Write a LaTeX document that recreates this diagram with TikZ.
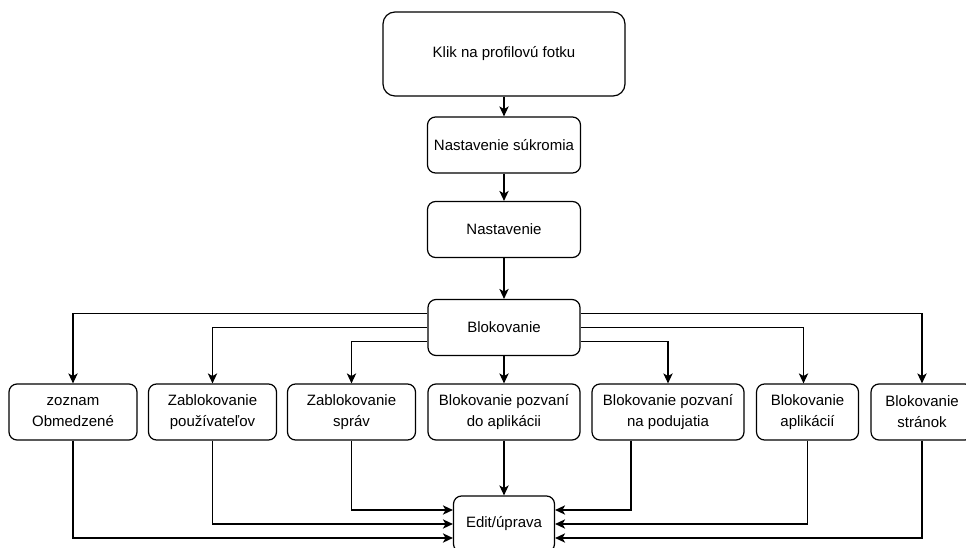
\documentclass[tikz,border=0pt]{standalone}
\usepackage{fontspec}
\setmainfont{Liberation Sans}
\usepackage{tikz}
\usetikzlibrary{arrows.meta, calc}

\begin{document}
\begin{tikzpicture}[x=0.75pt,y=0.75pt,yscale=-1,xscale=1,
  box/.style={draw, line width=0.9pt, rounded corners=6pt, align=center, inner sep=0.75pt, minimum height=42pt, font=\fontsize{11.25}{15.75}\selectfont},
  arr/.style={draw, line width=0.9pt, -{Stealth[length=7.5pt,width=7pt,inset=2pt]}}]
\useasboundingbox (0,0) rectangle (966,548);

%Shape: Rounded Rect [id:klik]
\node[box, rounded corners=9pt, minimum width=181.5pt, minimum height=63pt] (klik) at (504,54) {Klik na profilovú fotku};
%Shape: Rounded Rect [id:sukr]
\node[box, minimum width=114.75pt] (sukr) at (504,145) {Nastavenie súkromia};
%Shape: Rounded Rect [id:nast]
\node[box, minimum width=114.75pt] (nast) at (504,229.5) {Nastavenie};
%Shape: Rounded Rect [id:blk]
\node[box, minimum width=114pt] (blk) at (504,327.5) {Blokovanie};

%Shape: Rounded Rect [id:zoz]
\node[box, minimum width=96pt] (zoz) at (73,412) {zoznam\\Obmedzené};
%Shape: Rounded Rect [id:pouz]
\node[box, minimum width=96pt] (pouz) at (212.5,412) {Zablokovanie\\používateľov};
%Shape: Rounded Rect [id:sprav]
\node[box, minimum width=96pt] (sprav) at (351.5,412) {Zablokovanie\\správ};
%Shape: Rounded Rect [id:pozapl]
\node[box, minimum width=114pt] (pozapl) at (504,412) {Blokovanie pozvaní\\do aplikácii};
%Shape: Rounded Rect [id:pozpod]
\node[box, minimum width=114pt] (pozpod) at (668,412) {Blokovanie pozvaní\\na podujatia};
%Shape: Rounded Rect [id:apl]
\node[box, minimum width=76.5pt] (apl) at (807.5,412) {Blokovanie\\aplikácií};
%Shape: Rounded Rect [id:str]
\node[box, minimum width=76.5pt] (str) at (922,412) {Blokovanie\\stránok};

%Shape: Rounded Rect [id:edit]
\node[box, minimum width=75.75pt] (edit) at (504,524) {Edit/úprava};

%Straight Lines
\draw[arr] (klik) -- (sukr);
\draw[arr] (sukr) -- (nast);
\draw[arr] (nast) -- (blk);
\draw[arr] (blk) -- (pozapl);
\draw[arr] (pozapl) -- (edit);

%Connector: Blokovanie to the left
\draw[arr] ($(blk.west)+(0,-14)$) -| (zoz);
\draw[arr] (blk.west) -| (pouz);
\draw[arr] ($(blk.west)+(0,14)$) -| (sprav);
%Connector: Blokovanie to the right
\draw[arr] ($(blk.east)+(0,-14)$) -| (str);
\draw[arr] (blk.east) -| ($(apl.north)+(-4,0)$);
\draw[arr] ($(blk.east)+(0,14)$) -| (pozpod);

%Connector: into Edit from the left
\draw[arr] (sprav.south) |- ($(edit.west)+(0,-14)$);
\draw[arr] (pouz.south) |- (edit.west);
\draw[arr] (zoz.south) |- ($(edit.west)+(0,14)$);
%Connector: into Edit from the right
\draw[arr] ($(pozpod.south)+(-37,0)$) |- ($(edit.east)+(0,-14)$);
\draw[arr] (apl.south) |- (edit.east);
\draw[arr] (str.south) |- ($(edit.east)+(0,14)$);

\end{tikzpicture}
\end{document}
